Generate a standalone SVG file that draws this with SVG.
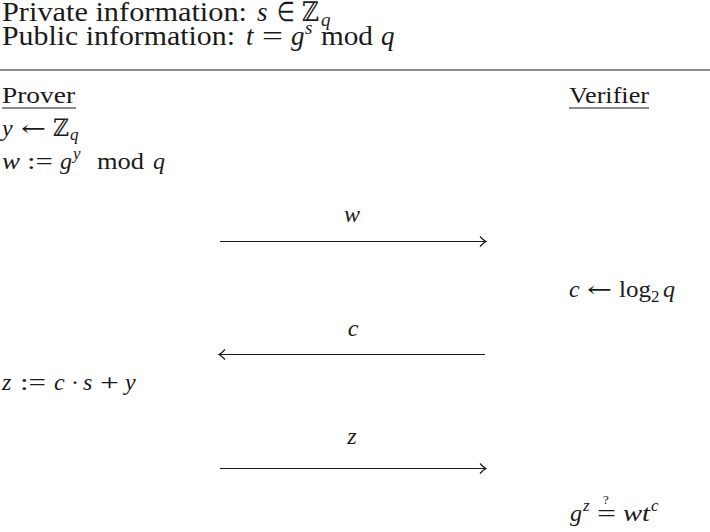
<svg xmlns="http://www.w3.org/2000/svg" width="710" height="532" viewBox="0 0 710 532">
<style>
text{font-family:"Liberation Serif","Times New Roman",serif;fill:#1a1a1a}
.h{font-size:27px}
.b{font-size:24px}
.s{font-size:17px;font-style:italic}
.hs{font-size:19px;font-style:italic}
.i{font-style:italic}
.z{font-family:"DejaVu Serif","Liberation Serif",serif}
.ar{font-family:"DejaVu Serif","DejaVu Sans",serif;font-size:22px}
.rule{stroke:#1a1a1a;stroke-width:1.2;fill:none}
.arr{stroke:#1a1a1a;stroke-width:1.2;fill:none}
</style>
<rect width="710" height="532" fill="#fff"/>
<g id="header">
<text class="h" x="2" y="21" textLength="245" lengthAdjust="spacingAndGlyphs">Private information:</text>
<text class="h i" x="257" y="21">s</text>
<text class="h" x="277" y="21" textLength="18" lengthAdjust="spacingAndGlyphs">∈</text>
<text class="h z" x="302" y="21" font-size="23" textLength="17" lengthAdjust="spacingAndGlyphs">ℤ</text>
<text class="hs" x="321" y="26">q</text>
<text class="h" x="2" y="45" textLength="233" lengthAdjust="spacingAndGlyphs">Public information:</text>
<text class="h i" x="246" y="45">t</text>
<text class="h" x="262" y="45" textLength="21" lengthAdjust="spacingAndGlyphs">=</text>
<text class="h i" x="291" y="45">g</text>
<text class="hs" x="305" y="34">s</text>
<text class="h" x="321" y="45" textLength="52" lengthAdjust="spacingAndGlyphs">mod</text>
<text class="h i" x="381" y="45">q</text>
<line class="rule" x1="0" y1="70" x2="710" y2="70"/>
</g>
<g id="prover">
<text class="b" x="2" y="103" textLength="73" lengthAdjust="spacingAndGlyphs">Prover</text>
<line class="rule" x1="2" y1="108" x2="76" y2="108"/>
<text class="b i" x="2" y="136">y</text>
<text class="ar" x="21" y="136" textLength="25" lengthAdjust="spacingAndGlyphs">←</text>
<text class="b z" x="53" y="136" font-size="21" textLength="16" lengthAdjust="spacingAndGlyphs">ℤ</text>
<text class="s" x="70" y="140">q</text>
<text class="b i" x="2" y="169" textLength="18" lengthAdjust="spacingAndGlyphs">w</text>
<text class="b" x="27" y="169" textLength="26" lengthAdjust="spacingAndGlyphs">:=</text>
<text class="b i" x="60" y="169">g</text>
<text class="s" x="73" y="159">y</text>
<text class="b" x="97" y="169" textLength="47" lengthAdjust="spacingAndGlyphs">mod</text>
<text class="b i" x="153" y="169">q</text>
<text class="b i" x="2" y="390">z</text>
<text class="b" x="20" y="390" textLength="26" lengthAdjust="spacingAndGlyphs">:=</text>
<text class="b i" x="54" y="390">c</text>
<text class="b" x="71" y="390">·</text>
<text class="b i" x="83" y="390">s</text>
<text class="b" x="100" y="390" textLength="19" lengthAdjust="spacingAndGlyphs">+</text>
<text class="b i" x="125" y="390">y</text>
</g>
<g id="verifier">
<text class="b" x="569" y="103" textLength="80" lengthAdjust="spacingAndGlyphs">Verifier</text>
<line class="rule" x1="569" y1="108" x2="649" y2="108"/>
<text class="b i" x="569" y="297">c</text>
<text class="ar" x="587" y="297" textLength="25" lengthAdjust="spacingAndGlyphs">←</text>
<text class="b" x="619" y="297" textLength="32" lengthAdjust="spacingAndGlyphs">log</text>
<text x="651" y="302" font-size="17">2</text>
<text class="b i" x="663" y="297">q</text>
<text class="b i" x="570" y="521">g</text>
<text class="s" x="583" y="511">z</text>
<text class="b" x="597" y="521" textLength="19" lengthAdjust="spacingAndGlyphs">=</text>
<text x="603" y="504" font-size="13">?</text>
<text class="b i" x="623" y="521" textLength="27" lengthAdjust="spacingAndGlyphs">wt</text>
<text class="s" x="651" y="511">c</text>
</g>
<g id="connectors">
<line class="arr" x1="220" y1="241.5" x2="485" y2="241.5"/>
<path class="arr" d="M480,236.5 Q483,240 486,241.5 Q483,243 480,246.5"/>
<text class="b i" x="352" y="222" text-anchor="middle">w</text>
<line class="arr" x1="220" y1="354.5" x2="485" y2="354.5"/>
<path class="arr" d="M225,349.5 Q222,353 219,354.5 Q222,356 225,359.5"/>
<text class="b i" x="353" y="336" text-anchor="middle">c</text>
<line class="arr" x1="220" y1="468.5" x2="485" y2="468.5"/>
<path class="arr" d="M480,463.5 Q483,467 486,468.5 Q483,470 480,473.5"/>
<text class="b i" x="352" y="444" text-anchor="middle">z</text>
</g>
</svg>
